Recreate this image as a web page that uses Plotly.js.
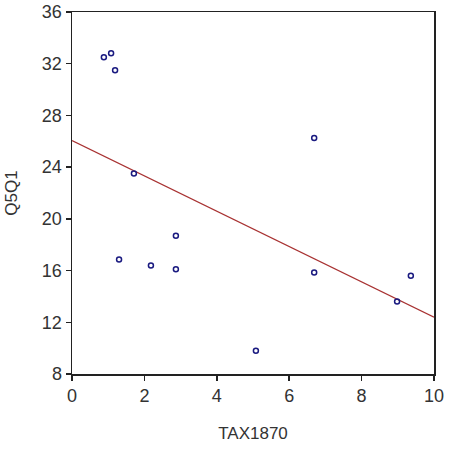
<!DOCTYPE html>
<html><head><meta charset="utf-8">
<script src="https://cdn.plot.ly/plotly-3.0.1.min.js"></script>
<style>html,body{margin:0;padding:0;background:#fff}#chart{width:451px;height:451px}</style>
</head><body><div id="chart"></div>
<script>
const tax1870 = [0.88, 1.08, 1.19, 1.71, 1.30, 2.18, 2.87, 2.87, 6.69, 6.69, 5.08, 9.36, 8.98];
const q5q1    = [32.5, 32.8, 31.5, 23.5, 16.85, 16.4, 18.7, 16.1, 26.25, 15.85, 9.8, 15.6, 13.6];
const fitX = [0, 10];
const fitY = [26.05, 12.4];
const xTicks = [0, 2, 4, 6, 8, 10];
const yTicks = [8, 12, 16, 20, 24, 28, 32, 36];

const traces = [
  {x: fitX, y: fitY, mode: 'lines', line: {color: '#a83232', width: 1.2}, hoverinfo: 'skip'},
  {x: tax1870, y: q5q1, mode: 'markers',
   marker: {symbol: 'circle-open', size: 5, color: '#1a1a80', line: {width: 1.5, color: '#1a1a80'}}}
];
const font = {family: 'Liberation Sans, Arial, sans-serif', size: 18, color: '#333'};
const tfont = {family: 'Liberation Sans, Arial, sans-serif', size: 17, color: '#333'};
const layout = {
  width: 451, height: 451,
  margin: {l: 72, r: 17, t: 12, b: 77},
  showlegend: false,
  paper_bgcolor: '#fff', plot_bgcolor: '#fff',
  font: font,
  xaxis: {range: [0, 10], tickvals: xTicks, ticktext: xTicks.map(String),
    ticks: 'outside', ticklen: 5, tickwidth: 1.5, tickcolor: '#222',
    showline: true, linecolor: '#222', linewidth: 1.5, mirror: true,
    showgrid: false, zeroline: false, tickfont: font,
    title: {text: 'TAX1870', font: tfont, standoff: 22}},
  yaxis: {range: [8, 36], tickvals: yTicks, ticktext: yTicks.map(String),
    ticks: 'outside', ticklen: 5, tickwidth: 1.5, tickcolor: '#222',
    showline: true, linecolor: '#222', linewidth: 1.5, mirror: true,
    showgrid: false, zeroline: false, tickfont: font,
    title: {text: 'Q5Q1', font: tfont, standoff: 20}}
};
Plotly.newPlot('chart', traces, layout, {staticPlot: true});
</script></body></html>
